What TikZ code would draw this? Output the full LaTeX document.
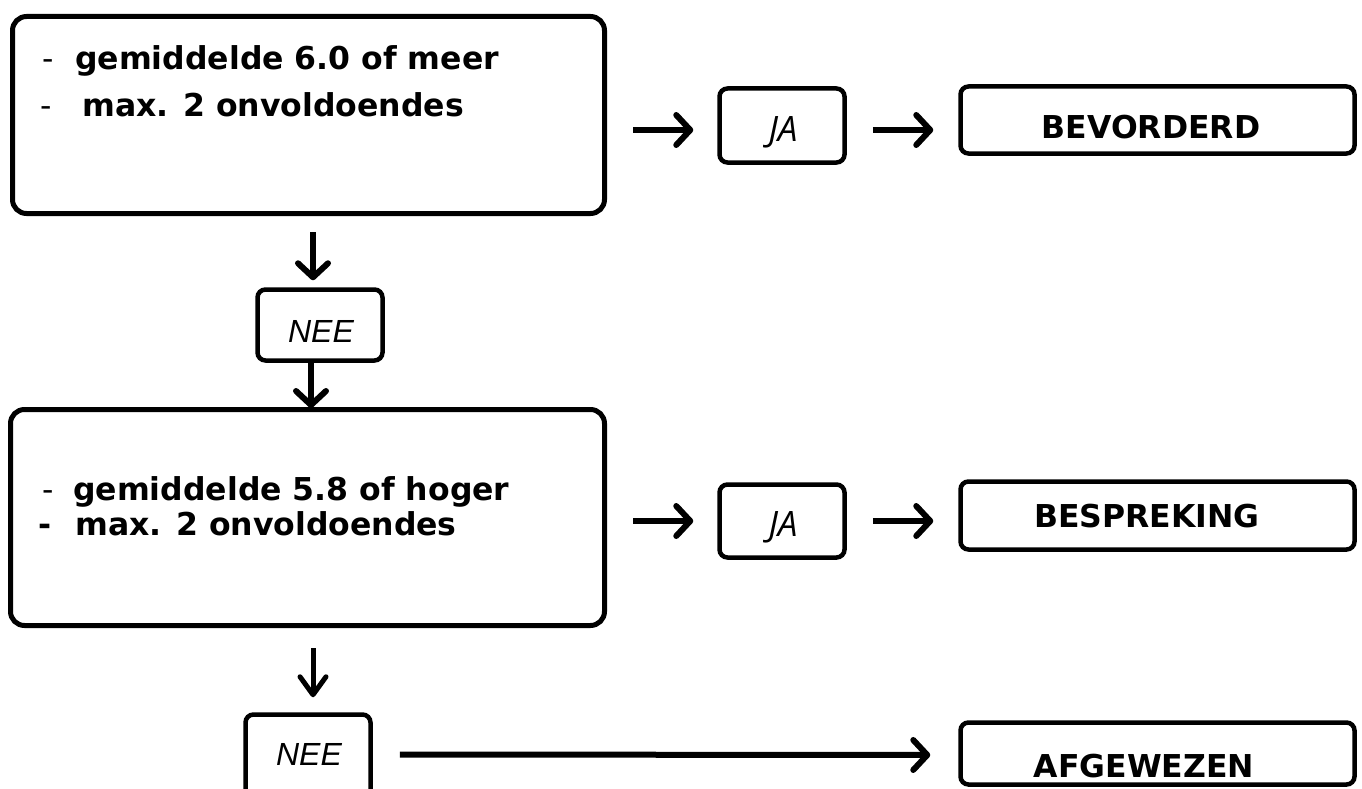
\documentclass[tikz,border=0pt]{standalone}
\usepackage{fontspec}
\setmainfont{DejaVu Sans}
\newfontfamily\neefont{Liberation Sans}
\newfontfamily\jafont{Open Sans}
\usetikzlibrary{arrows.meta,calc}
\tikzset{
  bigbox/.style={draw, line width=5pt, rounded corners=14pt, inner sep=0pt},
  smallbox/.style={draw, line width=4.5pt, rounded corners=8pt, inner sep=0pt},
  boldtext/.style={inner sep=0pt, anchor=base west, font=\fontsize{31.5}{31.5}\selectfont\bfseries},
  centertext/.style={inner sep=0pt, anchor=base, font=\fontsize{31.5}{31.5}\selectfont\bfseries},
  natext/.style={inner sep=0pt, anchor=base, font=\fontsize{32}{32}\selectfont\neefont\itshape},
  jatext/.style={inner sep=0pt, anchor=base, font=\fontsize{35}{35}\selectfont\jafont\itshape},
  arr/.style={line width=6pt, -{Straight Barb[length=14pt,width=30pt,round]}},
  thinarr/.style={line width=5pt, -{Straight Barb[length=18pt,width=26pt,round]}}
}
\begin{document}
\begin{tikzpicture}[x=1pt,y=-1pt]
\useasboundingbox (0,0) rectangle (1362,789);
\clip (0,0) rectangle (1362,789);
% boxes
\node[bigbox, minimum width=592pt, minimum height=197pt] (b1) at (308.5,115) {};
\node[bigbox, minimum width=594pt, minimum height=216pt] (b2) at (307.5,517.5) {};
\node[smallbox, minimum width=125pt, minimum height=74pt] (ja1) at (782,125.5) {};
\node[smallbox, minimum width=394pt, minimum height=67pt] (bev) at (1157.5,120) {};
\node[smallbox, minimum width=125pt, minimum height=73pt] (ja2) at (782,521) {};
\node[smallbox, minimum width=394pt, minimum height=68pt] (besp) at (1157.5,515.5) {};
\node[smallbox, minimum width=125pt, minimum height=71pt] (nee1) at (320,325) {};
\node[smallbox, minimum width=125pt, minimum height=85pt] (nee2) at (308,757) {};
\node[smallbox, minimum width=394pt, minimum height=62pt] (afg) at (1157.5,753.5) {};
% texts
\node[boldtext] (t1a) at (42,70) {\makebox[33pt][l]{\mdseries -}gemiddelde 6.0 of meer};
\node[boldtext] (t1b) at (40,117) {\makebox[42pt][l]{\mdseries -}max. 2 onvoldoendes};
\node[boldtext] (t2a) at (42,500) {\makebox[31pt][l]{\mdseries -}gemiddelde 5.8 of hoger};
\node[boldtext] (t2b) at (38,535) {\makebox[37pt][l]{-}max. 2 onvoldoendes};
\node[centertext] (tbev) at (1151,139) {BEVORDERD};
\node[centertext] (tbesp) at (1147,527) {BESPREKING};
\node[centertext] (tafg) at (1144,777) {AFGEWEZEN};
\node[jatext] (tja1) at (783,142) {JA};
\node[jatext] (tja2) at (783,536) {JA};
\node[natext] (tnee1) at (321,342) {NEE};
\node[natext] (tnee2) at (309,765) {NEE};
% connectors
\draw[arr] ($(b1.east)+(26,15)$) -- ($(ja1.west)+(-24,4.5)$);
\draw[arr] ($(ja1.east)+(26,4.5)$) -- ($(bev.west)+(-25,10)$);
\draw[arr] ($(b2.east)+(26,3.5)$) -- ($(ja2.west)+(-24,0)$);
\draw[arr] ($(ja2.east)+(26,0)$) -- ($(besp.west)+(-25,5.5)$);
\draw[arr] ($(b1.south)+(4.5,16)$) -- ($(nee1.north)+(-7,-7)$);
\draw[arr] ($(nee1.south)+(-9,0)$) -- ($(b2.north)+(3.5,1)$);
\draw[thinarr] ($(b2.south)+(5.5,20)$) -- ($(nee2.north)+(5,-15)$);
\draw[arr] ($(nee2.east)+(27,-2.5)$) -- ($(afg.west)+(-28,1.5)$);
\end{tikzpicture}
\end{document}
